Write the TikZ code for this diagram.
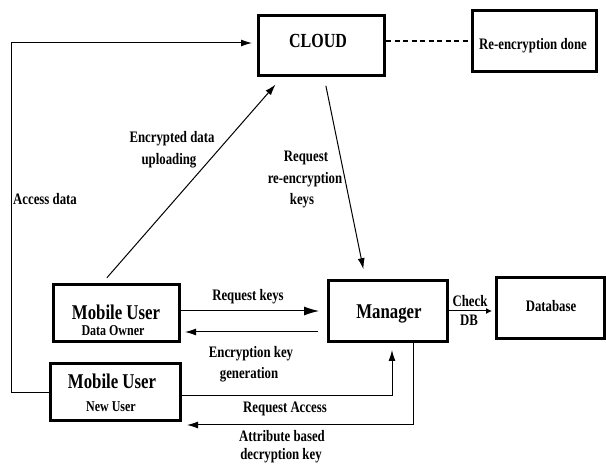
\documentclass[tikz,border=0pt]{standalone}
\usepackage{fontspec}
\setmainfont{Liberation Serif}[FakeStretch=0.8]
\usetikzlibrary{arrows.meta,calc}
\tikzset{
  box/.style={draw, line width=3pt, minimum width=#1, inner sep=0pt},
  lbl/.style={font=\fontsize{16}{21}\selectfont\bfseries, anchor=base, inner sep=0pt},
  big/.style={font=\fontsize{21}{24}\selectfont\bfseries, anchor=base, inner sep=0pt},
  conn/.style={line width=1pt},
  arr/.style={conn, -{Latex[length=11pt,width=7pt]}},
}
\begin{document}
\begin{tikzpicture}[x=1pt,y=-1pt]
\useasboundingbox[fill=white] (0,0) rectangle (606,465);
% boxes
\node[box=126pt, minimum height=60pt] (cloud) at (321.5,45.5) {};
\node[box=124pt, minimum height=61pt] (redone) at (534.5,41) {};
\node[box=126pt, minimum height=57pt] (owner) at (116.5,313) {};
\node[box=130pt, minimum height=57pt] (newuser) at (115.5,392) {};
\node[box=119pt, minimum height=61pt] (manager) at (388,311) {};
\node[box=108pt, minimum height=61pt] (database) at (550.5,308) {};
% box texts
\node[big, font=\fontsize{20}{24}\selectfont\bfseries] (tcloud) at (318,48) {CLOUD};
\node[lbl] (tredone) at (533,50) {Re-encryption done};
\node[big] (towner) at (116,320) {Mobile User};
\node[lbl, font=\fontsize{15}{18}\selectfont\bfseries] (towner2) at (113,336) {Data Owner};
\node[big] (tnew) at (112,389) {Mobile User};
\node[lbl, font=\fontsize{15}{18}\selectfont\bfseries] (tnew2) at (111,412) {New User};
\node[big] (tmanager) at (389,319) {Manager};
\node[lbl] (tdatabase) at (551,312) {Database};
% routing coordinates
\coordinate (bl) at (11,393);
\coordinate (tl) at (11,43);
\coordinate (ctl) at (257,43);
\coordinate (ekS) at (318,332);
\coordinate (ekE) at (185,332);
\coordinate (raS) at (182,396);
\coordinate (raC) at (392,396);
\coordinate (raE) at (392,350);
\coordinate (abC) at (413,425);
\coordinate (abE) at (187,425);
% connectors
\draw[arr, shorten >=5pt] (newuser.west |- bl) -- (bl) -- (tl) -- (ctl);
\draw[line width=2pt, dash pattern=on 5pt off 3.5pt] (redone.west -| cloud.east) -- (redone.west);
\draw[arr, shorten <=7pt, shorten >=10pt] ($(owner.north west)!0.39!(owner.north east)$) -- ($(cloud.south west)!0.195!(cloud.south east)$);
\draw[arr, shorten <=9pt, shorten >=10pt] ($(cloud.south west)!0.52!(cloud.south east)$) -- ($(manager.north west)!0.315!(manager.north east)$);
\draw[conn, -{Latex[length=15pt,width=9pt]}, shorten >=8pt] (manager.west -| owner.east) -- (manager.west);
\draw[arr] (ekS) -- (ekE);
\draw[arr] (raS) -- (raC) -- (raE);
\draw[arr] (manager.south -| abC) -- (abC) -- (abE);
\draw[conn, -{Latex[length=6pt,width=6pt]}, shorten >=3pt] (manager.east) -- (manager.east -| database.west);
% labels
\node[lbl] (lcheck) at (470,307) {Check};
\node[lbl] (ldb) at (469,326) {DB};
\node[lbl] (lreqkeys) at (248,301) {Request keys};
\node[lbl] (lenc1) at (251,358) {Encryption key};
\node[lbl] (lenc2) at (249,379) {generation};
\node[lbl] (lreqacc) at (285,413) {Request Access};
\node[lbl] (lattr1) at (282,442) {Attribute based};
\node[lbl] (lattr2) at (281,460) {decryption key};
\node[lbl] (lup1) at (172,143) {Encrypted data};
\node[lbl] (lup2) at (169,165) {uploading};
\node[lbl] (lrr1) at (306,162) {Request};
\node[lbl] (lrr2) at (305,184) {re-encryption};
\node[lbl] (lrr3) at (302,205) {keys};
\node[lbl, anchor=base west] (laccess) at (13,205) {Access data};
\end{tikzpicture}
\end{document}
